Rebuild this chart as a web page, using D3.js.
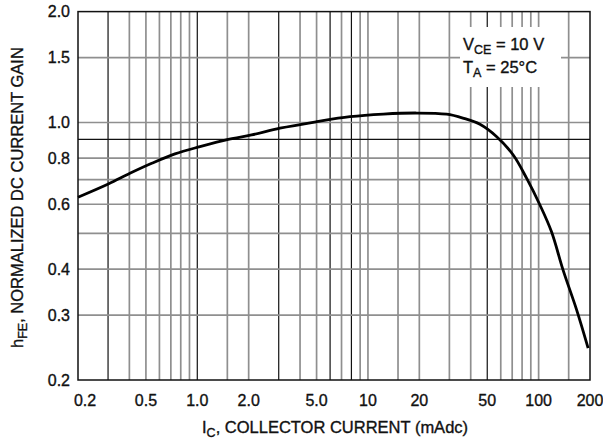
<!DOCTYPE html>
<html>
<head>
<meta charset="utf-8">
<script src="https://cdn.jsdelivr.net/npm/d3@7"></script>
<style>
	body { margin: 0; background: #fff; }
	svg text { font-family: 'Liberation Sans', Arial, sans-serif; fill: #111; stroke: #111; stroke-width: 0.35; }
	.grid.soft { stroke: #8f8f8f; stroke-width: 1.7; }
	.grid.dark { stroke: #111; stroke-width: 1.2; }
	.frame { fill: none; stroke: #111; stroke-width: 1.5; }
	.curve { fill: none; stroke: #000; stroke-width: 2.8; }
	.tickLabel { font-size: 16px; }
	.axisTitle { font-size: 16.5px; }
</style>
</head>
<body>
<div id="chart"></div>
<script>
// collector current (mAdc) vs normalized hFE
var icValues  = [0.2, 0.301, 0.403, 0.541, 0.74, 1.037, 1.52, 2.08, 3.05, 5.0, 7.84, 12.3, 19.3, 28.9, 36, 45.3, 56.8, 71, 85, 101.8, 119, 139, 167, 195]
var hfeValues = [0.627, 0.681, 0.728, 0.775, 0.822, 0.86, 0.90, 0.925, 0.965, 1.005, 1.037, 1.054, 1.061, 1.053, 1.028, 0.989, 0.915, 0.816, 0.706, 0.597, 0.505, 0.398, 0.31, 0.244]

var xTicks = [0.2, 0.5, 1, 2, 5, 10, 20, 50, 100, 200]
var xTickLabels = ["0.2", "0.5", "1.0", "2.0", "5.0", "10", "20", "50", "100", "200"]
var yTicks = [0.2, 0.3, 0.4, 0.6, 0.8, 1.0, 1.5, 2.0]
var yTickLabels = ["0.2", "0.3", "0.4", "0.6", "0.8", "1.0", "1.5", "2.0"]

var xGrid = [0.3, 0.4, 0.5, 0.6, 0.7, 0.8, 0.9, 1, 1.5, 2, 3, 4, 5, 6, 7, 8, 9, 10, 15, 20, 30, 40, 50, 60, 70, 80, 90, 100, 150]
var yGrid = [0.3, 0.4, 0.5, 0.6, 0.7, 0.8, 0.9, 1.0, 1.5]

// lines that came out heavier in the original print
var DARK_X = [0.3, 1, 3, 6, 8, 50]
var DARK_Y = [0.9]

var WIDTH = 603, HEIGHT = 443
var PLOT = { left: 78, right: 590, top: 11.6, bottom: 380 }

var svg = d3.select("#chart").append("svg")
	.attr("width", WIDTH)
	.attr("height", HEIGHT)

var x = d3.scaleLog().domain([0.2, 200]).range([PLOT.left, PLOT.right])
var y = d3.scaleLog().domain([0.2, 2.0]).range([PLOT.bottom, PLOT.top])

// grid
svg.selectAll(".vgrid")
	.data(xGrid)
	.enter()
	.append("line")
	.attr("class", function(d){ return "grid vgrid " + (DARK_X.indexOf(d) != -1 ? "dark" : "soft") })
	.attr("x1", function(d){ return x(d) })
	.attr("x2", function(d){ return x(d) })
	.attr("y1", PLOT.top)
	.attr("y2", PLOT.bottom)

svg.selectAll(".hgrid")
	.data(yGrid)
	.enter()
	.append("line")
	.attr("class", function(d){ return "grid hgrid " + (DARK_Y.indexOf(d) != -1 ? "dark" : "soft") })
	.attr("x1", PLOT.left)
	.attr("x2", PLOT.right)
	.attr("y1", function(d){ return y(d) })
	.attr("y2", function(d){ return y(d) })

// annotation box blanks out the grid behind it
var note = svg.append("g").attr("transform", "translate(460,27)")
note.append("rect")
	.attr("width", 101)
	.attr("height", 60)
	.attr("fill", "#fff")

var t1 = note.append("text").attr("x", 3).attr("y", 23).attr("class", "axisTitle")
t1.append("tspan").text("V")
t1.append("tspan").attr("dy", 4).style("font-size", "12.5px").text("CE")
t1.append("tspan").attr("dy", -4).text(" = 10 V")

var t2 = note.append("text").attr("x", 3).attr("y", 46).attr("class", "axisTitle")
t2.append("tspan").text("T")
t2.append("tspan").attr("dy", 4).style("font-size", "12.5px").text("A")
t2.append("tspan").attr("dy", -4).text(" = 25°C")

// frame
svg.append("rect")
	.attr("class", "frame")
	.attr("x", PLOT.left)
	.attr("y", PLOT.top)
	.attr("width", PLOT.right - PLOT.left)
	.attr("height", PLOT.bottom - PLOT.top)

// curve
var line = d3.line()
	.x(function(d){ return x(d[0]) })
	.y(function(d){ return y(d[1]) })
	.curve(d3.curveCatmullRom.alpha(0.5))

svg.append("path")
	.datum(d3.zip(icValues, hfeValues))
	.attr("class", "curve")
	.attr("d", line)

// tick labels
svg.selectAll(".xTick")
	.data(xTicks)
	.enter()
	.append("text")
	.attr("class", "tickLabel xTick")
	.attr("x", function(d){ return x(d) })
	.attr("dx", function(d,i){ return i == 0 ? 7 : 0 })
	.attr("y", 406)
	.attr("text-anchor", "middle")
	.text(function(d,i){ return xTickLabels[i] })

svg.selectAll(".yTick")
	.data(yTicks)
	.enter()
	.append("text")
	.attr("class", "tickLabel yTick")
	.attr("x", 70)
	.attr("y", function(d){ return y(d) })
	.attr("dy", "0.36em")
	.attr("text-anchor", "end")
	.text(function(d,i){ return yTickLabels[i] })

// axis titles
var xt = svg.append("text")
	.attr("class", "axisTitle")
	.attr("x", 202)
	.attr("y", 433)
xt.append("tspan").text("I")
xt.append("tspan").attr("dy", 4).style("font-size", "12.5px").text("C")
xt.append("tspan").attr("dy", -4).text(", COLLECTOR CURRENT (mAdc)")

var yt = svg.append("text")
	.attr("class", "axisTitle")
	.attr("transform", "translate(23,348) rotate(-90)")
	.attr("x", 0)
	.attr("y", 0)
yt.append("tspan").text("h")
yt.append("tspan").attr("dy", 4).style("font-size", "12.5px").text("FE")
yt.append("tspan").attr("dy", -4).text(", NORMALIZED DC CURRENT GAIN")
</script>
</body>
</html>
